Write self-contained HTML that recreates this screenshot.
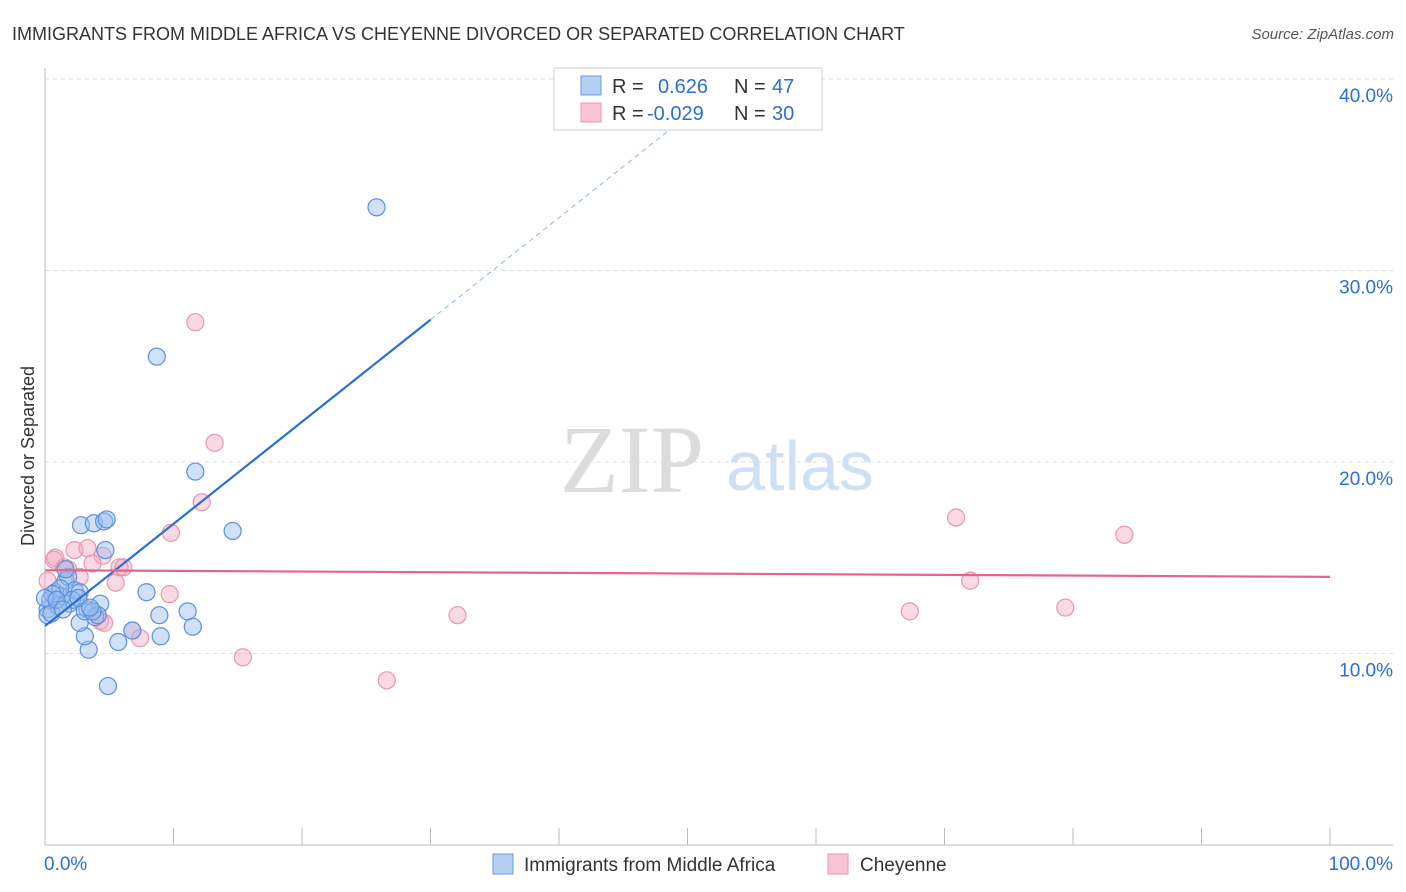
<!DOCTYPE html>
<html><head><meta charset="utf-8">
<style>
body{margin:0;background:#fff;font-family:"Liberation Sans",sans-serif;}
svg{display:block}
</style></head>
<body>
<svg id="chart" width="1406" height="892">
<text x="12" y="40" font-size="18" fill="#333">IMMIGRANTS FROM MIDDLE AFRICA VS CHEYENNE DIVORCED OR SEPARATED CORRELATION CHART</text>
<text x="1394" y="39" font-size="15" fill="#555" font-style="italic" text-anchor="end">Source: ZipAtlas.com</text>
<text x="632" y="492" font-size="96" fill="#dcdcdc" font-family="Liberation Serif,serif" text-anchor="middle">ZIP</text>
<text x="800" y="490" font-size="70" fill="#cfe0f5" text-anchor="middle">atlas</text>
<text x="34" y="456" font-size="18" fill="#333" text-anchor="middle" transform="rotate(-90 34 456)">Divorced or Separated</text>
<g id="grid"></g>
<g id="marks"></g>
<g>
<rect x="554" y="68" width="268" height="62" fill="#fff" stroke="#ccc"/>
<rect x="581" y="76" width="20" height="19" fill="#b4cff2" stroke="#6a9be0"/>
<rect x="581" y="103" width="20" height="19" fill="#f8c3d2" stroke="#e99ab2"/>
<text x="612" y="93" font-size="20" fill="#333">R = </text>
<text x="658" y="93" font-size="20" fill="#2a6fd6">0.626</text>
<text x="734" y="93" font-size="20" fill="#333">N = </text>
<text x="772" y="93" font-size="20" fill="#2a6fd6">47</text>
<text x="612" y="120" font-size="20" fill="#333">R = </text>
<text x="647" y="120" font-size="20" fill="#2a6fd6">-0.029</text>
<text x="734" y="120" font-size="20" fill="#333">N = </text>
<text x="772" y="120" font-size="20" fill="#2a6fd6">30</text>
</g>
<g>
<rect x="493" y="854" width="20" height="20" fill="#b4cff2" stroke="#6a9be0"/>
<text x="524" y="871" font-size="19" fill="#333">Immigrants from Middle Africa</text>
<rect x="828" y="854" width="20" height="20" fill="#f8c3d2" stroke="#e99ab2"/>
<text x="860" y="871" font-size="19" fill="#333">Cheyenne</text>
</g>
</svg>
<script>
const blueX=[25.8,8.7,11.7,14.6,2.8,3.8,4.6,4.8,4.7,7.9,8.9,11.1,11.5,9.0,5.7,3.4,3.1,4.9,6.8,4.3,3.9,3.3,2.7,1.9,1.3,0.8,0.4,0.2,0.2,1.6,1.8,2.3,2.7,2.1,1.0,0.5,1.2,3.1,4.1,3.7,0.6,1.6,2.6,3.5,0.0,0.9,1.4];
const blueY=[33.3,25.5,19.5,16.4,16.7,16.8,16.9,17.0,15.4,13.2,12.0,12.2,11.4,10.9,10.6,10.2,10.9,8.3,11.2,12.6,11.9,12.3,11.6,12.6,13.0,13.2,12.8,12.3,12.0,13.8,14.0,13.3,13.2,12.8,12.5,12.1,13.4,12.2,12.0,12.2,13.1,14.4,12.9,12.4,12.9,12.8,12.3];
const pinkX=[11.7,13.2,12.2,9.8,70.9,84.0,72.0,67.3,79.4,32.1,26.6,15.4,9.7,0.8,2.3,3.3,4.5,3.7,5.8,6.1,5.5,1.8,2.7,1.5,4.3,4.6,6.8,7.4,0.7,0.2];
const pinkY=[27.3,21.0,17.9,16.3,17.1,16.2,13.8,12.2,12.4,12.0,8.6,9.8,13.1,15.0,15.4,15.5,15.1,14.7,14.5,14.5,13.7,14.4,14.0,14.5,11.7,11.6,11.2,10.8,14.9,13.8];
const yTicks=[10,20,30,40];
const yTickLabels=["10.0%","20.0%","30.0%","40.0%"];
const xTicks=[0,10,20,30,40,50,60,70,80,90,100];
const blueTrend=[11.44,0.533];
const pinkTrend=[14.35,-0.0035];
const X=v=>45+v*12.85, Y=v=>845-v*19.15;
const NS="http://www.w3.org/2000/svg";
const grid=document.getElementById('grid'), marks=document.getElementById('marks');
function mk(tag,attrs,parent){const e=document.createElementNS(NS,tag);for(const k in attrs)e.setAttribute(k,attrs[k]);parent.appendChild(e);return e;}
yTicks.forEach((t,i)=>{
 const l=mk('line',{x1:45,x2:1393,y1:Y(t),y2:Y(t),stroke:'#ddd','stroke-dasharray':'4,4'},grid);
 
 
 const tx=mk('text',{x:1393,y:Y(t)+23,'font-size':19,fill:'#2a6fd6','text-anchor':'end'},grid);
 tx.textContent=yTickLabels[i];
 
 
});
const ax=mk('line',{x1:45,x2:45,y1:68,y2:845,stroke:'#bbb'},grid);


const bx=mk('line',{x1:45,x2:1393,y1:845,y2:845,stroke:'#bbb'},grid);


xTicks.forEach(t=>{
 const l=mk('line',{x1:X(t),x2:X(t),y1:828,y2:845,stroke:'#bbb'},grid);
 
 
});
const x0=mk('text',{x:44,y:870,'font-size':19,fill:'#2a6fd6'},grid);x0.textContent='0.0%';


const x1=mk('text',{x:1393,y:870,'font-size':19,fill:'#2a6fd6','text-anchor':'end'},grid);x1.textContent='100.0%';


pinkX.forEach((x,i)=>{
 const c=mk('circle',{cx:X(x),cy:Y(pinkY[i]),r:8.5,fill:'rgba(244,160,188,0.4)',stroke:'#e995b0','stroke-width':1.2},marks);
 
 
});
blueX.forEach((x,i)=>{
 const c=mk('circle',{cx:X(x),cy:Y(blueY[i]),r:8.5,fill:'rgba(150,188,238,0.45)',stroke:'#5b8fe0','stroke-width':1.2},marks);
 
 
});
const bt=(x)=>blueTrend[0]+blueTrend[1]*x;
const b1=mk('line',{x1:X(0),y1:Y(bt(0)),x2:X(30),y2:Y(bt(30)),stroke:'#2a6fd6','stroke-width':2.2},marks);


const b2=mk('line',{x1:X(30),y1:Y(bt(30)),x2:X(51),y2:Y(bt(51)),stroke:'#8fb3e8','stroke-width':1,'stroke-dasharray':'5,4'},marks);


const pt=(x)=>pinkTrend[0]+pinkTrend[1]*x;
const p1=mk('line',{x1:X(0),y1:Y(pt(0)),x2:X(100),y2:Y(pt(100)),stroke:'#e4638f','stroke-width':2.2},marks);


</script>
</body></html>
